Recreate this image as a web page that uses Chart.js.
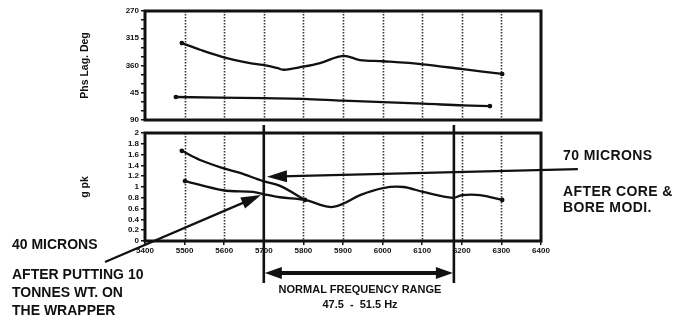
<!DOCTYPE html>
<html><head><meta charset="utf-8">
<script src="https://cdn.jsdelivr.net/npm/chart.js@4.4.1/dist/chart.umd.min.js"></script>
<style>
html,body{margin:0;padding:0;background:#fff;}
#wrap{position:relative;width:684px;height:322px;overflow:hidden;background:#fff;}
canvas{position:absolute;left:0;top:0;}
.t{position:absolute;font-family:"Liberation Sans",Arial,sans-serif;font-weight:bold;color:#111;white-space:nowrap;line-height:1;}
</style></head><body>
<div id="wrap">
<canvas id="bot" width="684" height="322"></canvas>
<canvas id="top" width="684" height="130"></canvas>
<div class="t" style="left:563px;top:148px;font-size:14px;letter-spacing:0.4px">70 MICRONS</div>
<div class="t" style="left:563px;top:184px;font-size:14px;letter-spacing:0.4px">AFTER CORE &amp;</div>
<div class="t" style="left:563px;top:200px;font-size:14px;letter-spacing:0.4px">BORE MODI.</div>
<div class="t" style="left:12px;top:237px;font-size:14px">40 MICRONS</div>
<div class="t" style="left:12px;top:267px;font-size:14px">AFTER PUTTING 10</div>
<div class="t" style="left:12px;top:285px;font-size:14px">TONNES WT. ON</div>
<div class="t" style="left:12px;top:303px;font-size:14px">THE WRAPPER</div>
<div class="t" style="left:240px;width:240px;text-align:center;top:284px;font-size:11px">NORMAL FREQUENCY RANGE</div>
<div class="t" style="left:240px;width:240px;text-align:center;top:299px;font-size:11px">47.5 &nbsp;-&nbsp; 51.5 Hz</div>
</div>
<script>
// ---- data ----
const xTickMin = 5400, xTickMax = 6400;
const phaseTickLabels = ['270','315','360','45','90'];
const gTickLabels = ['0','0.2','0.4','0.6','0.8','1','1.2','1.4','1.6','1.8','2'];

const phaseFreqA = [5493,5539,5597,5665,5698,5733,5750,5799,5842,5900,5943,6001,6102,6203,6302];
const phaseDegA  = [323, 334, 346, 356, 359, 364, 367, 362, 356, 344, 351, 353, 358, 366, 374];
const phaseFreqB = [5478,5698,5799,5900,6102,6203,6271];
const phaseDegB  = [412, 414, 415, 418, 423, 426, 427];

const gFreqA = [5493,5539,5597,5640,5698,5741,5804];
const gValA  = [1.67,1.50,1.35,1.26,1.11,1.02,0.76];
const gFreqB = [5501,5597,5673,5698,5741,5804,5867,5900,5943,6001,6052,6102,6178,6200,6246,6302];
const gValB  = [1.11,0.94,0.91,0.87,0.81,0.76,0.63,0.69,0.85,0.98,1.00,0.91,0.80,0.85,0.85,0.76];

const bandLow = 5700, bandHigh = 6180;
// ---------------------------------------

const INK = '#111';
const tickFont = {family:'"Liberation Sans Narrow","Liberation Sans",Arial,sans-serif', weight:'bold', size:8};
const titleFont = {family:'"Liberation Sans",Arial,sans-serif', weight:'bold', size:10.5};

function pts(xs, ys){ return xs.map((x,i)=>({x, y:ys[i]})); }
function endRadius(n){ return Array.from({length:n},(_,i)=> (i===0||i===n-1)?1.2:0); }
function lineDs(data){
  return {data, borderColor:INK, backgroundColor:INK, borderWidth:2.3, tension:0.35,
          pointRadius:endRadius(data.length), pointHoverRadius:0, fill:false};
}

function drawGrid(ch, skip){
  const {ctx, chartArea:a, scales:{x}} = ch;
  ctx.save();
  ctx.strokeStyle = '#333'; ctx.lineWidth = 1.6; ctx.setLineDash([1.5,1.5]);
  x.ticks.forEach(t=>{
    const v = t.value;
    if (v <= x.min || v >= x.max || skip.includes(v)) return;
    const px = Math.round(x.getPixelForValue(v)) + 0.5;
    ctx.beginPath(); ctx.moveTo(px, a.top); ctx.lineTo(px, a.bottom); ctx.stroke();
  });
  ctx.restore();
}
function drawFrame(ch){
  const {ctx, chartArea:a} = ch;
  ctx.save(); ctx.lineWidth = 3; ctx.strokeStyle = INK;
  ctx.strokeRect(a.left, a.top, a.right-a.left, a.bottom-a.top);
  ctx.restore();
}
function arrowHead(ctx, x1,y1,x2,y2,len,w){
  const ang = Math.atan2(y2-y1, x2-x1), c=Math.cos(ang), s=Math.sin(ang);
  ctx.beginPath(); ctx.moveTo(x2,y2);
  ctx.lineTo(x2-len*c + w*s, y2-len*s - w*c);
  ctx.lineTo(x2-len*c - w*s, y2-len*s + w*c);
  ctx.closePath(); ctx.fill();
}
function arrow(ctx, x1,y1,x2,y2,len,w){
  const ang = Math.atan2(y2-y1, x2-x1);
  ctx.beginPath(); ctx.moveTo(x1,y1);
  ctx.lineTo(x2-Math.cos(ang)*len*0.7, y2-Math.sin(ang)*len*0.7); ctx.stroke();
  arrowHead(ctx,x1,y1,x2,y2,len,w);
}

const topPlugin = {
  id:'topDeco',
  beforeDatasetsDraw(ch){ drawGrid(ch, []); },
  afterDraw(ch){ drawFrame(ch); }
};
const botPlugin = {
  id:'botDeco',
  beforeDatasetsDraw(ch){ drawGrid(ch, [bandLow]); },
  afterDraw(ch){
    drawFrame(ch);
    const {ctx, chartArea:a, scales:{x,y}} = ch;
    ctx.save();
    ctx.strokeStyle = INK; ctx.fillStyle = INK; ctx.lineCap='butt';
    const xl = x.getPixelForValue(bandLow), xh = x.getPixelForValue(bandHigh);
    ctx.lineWidth = 2.6;
    [xl,xh].forEach(px=>{ ctx.beginPath(); ctx.moveTo(px, a.top-8); ctx.lineTo(px, a.bottom+42); ctx.stroke(); });
    const ay = a.bottom + 32;
    ctx.lineWidth = 4;
    ctx.beginPath(); ctx.moveTo(xl+12, ay); ctx.lineTo(xh-12, ay); ctx.stroke();
    arrowHead(ctx, xh, ay, xl+1, ay, 17, 6);
    arrowHead(ctx, xl, ay, xh-1, ay, 17, 6);
    ctx.lineWidth = 2.2;
    arrow(ctx, x.getPixelForValue(6493), y.getPixelForValue(1.33),
               x.getPixelForValue(5708), y.getPixelForValue(1.19), 20, 6);
    arrow(ctx, x.getPixelForValue(5299), y.getPixelForValue(-0.39),
               x.getPixelForValue(5693), y.getPixelForValue(0.85), 20, 6);
    ctx.restore();
  }
};

Chart.defaults.color = INK;
Chart.defaults.animation = false;

new Chart(document.getElementById('top'), {
  type:'line',
  data:{datasets:[lineDs(pts(phaseFreqA, phaseDegA)), lineDs(pts(phaseFreqB, phaseDegB))]},
  options:{
    responsive:false, animation:false, devicePixelRatio:1,
    layout:{padding:{left:79, right:143, top:11, bottom:10}},
    plugins:{legend:{display:false}, tooltip:{enabled:false}},
    scales:{
      x:{type:'linear', min:xTickMin, max:xTickMax,
         ticks:{display:false, stepSize:100},
         grid:{display:false}, border:{display:false},
         afterFit(s){ s.height = 0; }},
      y:{type:'linear', min:270, max:450, reverse:true,
         ticks:{stepSize:15, autoSkip:false, font:tickFont, color:INK, padding:2,
                callback:(v)=> (v-270)%45===0 ? phaseTickLabels[(v-270)/45] : ''},
         grid:{drawOnChartArea:false, tickLength:4, color:INK, lineWidth:1.5},
         border:{display:false},
         title:{display:true, text:'Phs Lag. Deg', font:titleFont, color:INK, padding:0},
         afterFit(s){ s.width = 66; }}
    }
  },
  plugins:[topPlugin]
});

new Chart(document.getElementById('bot'), {
  type:'line',
  data:{datasets:[lineDs(pts(gFreqA, gValA)), lineDs(pts(gFreqB, gValB))]},
  options:{
    responsive:false, animation:false, devicePixelRatio:1,
    layout:{padding:{left:79, right:143, top:133, bottom:61}},
    plugins:{legend:{display:false}, tooltip:{enabled:false}},
    scales:{
      x:{type:'linear', min:xTickMin, max:xTickMax,
         ticks:{stepSize:100, autoSkip:false, maxRotation:0, font:tickFont, color:INK, padding:1,
                callback:(v)=>String(v)},
         grid:{drawOnChartArea:false, tickLength:4, color:INK, lineWidth:1.5},
         border:{display:false},
         afterFit(s){ s.height = 20; }},
      y:{type:'linear', min:0, max:2,
         ticks:{stepSize:0.2, autoSkip:false, font:tickFont, color:INK, padding:2,
                callback:(v)=> gTickLabels[Math.round(v*5)]},
         grid:{drawOnChartArea:false, tickLength:4, color:INK, lineWidth:1.5},
         border:{display:false},
         title:{display:true, text:'g pk', font:titleFont, color:INK, padding:0},
         afterFit(s){ s.width = 66; }}
    }
  },
  plugins:[botPlugin]
});
</script>
</body></html>
